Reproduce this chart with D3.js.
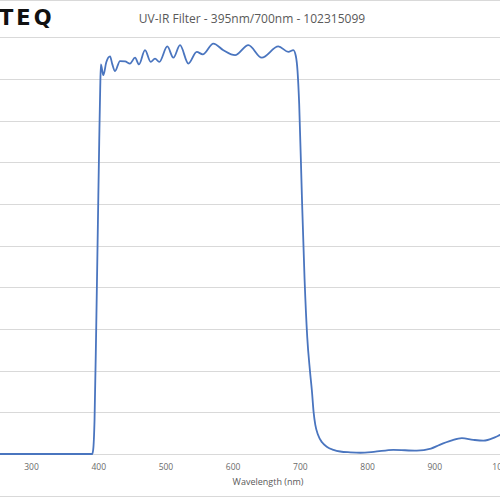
<!DOCTYPE html>
<html><head><meta charset="utf-8">
<script src="https://cdn.jsdelivr.net/npm/d3@7"></script>
<style>body{margin:0;background:#fff}svg{display:block}</style>
</head><body>
<svg id="c" width="500" height="500"></svg>
<script>
const wavelength = [250,300,350,385,391,392.5,394.5,397,399.5,401.5,403,404,407.6,412,417.6,421,425,432.4,440,447.3,454.8,460.7,469.6,478.1,484.5,490.9,502.8,511.8,521.7,534.1,546.6,555.5,571.3,586.2,603.6,623.4,643.3,668,682.9,690.3,694,696.5,699,703,707,711,715,718,720.5,723,727,733,740,750,760,775,790,810,839,874,895,908,925,941,958,973,990,998,1010,1030];
const transmission = [0,0,0,0,0,1,8,30,55,75,88,93.5,90.9,94,95.4,93.5,91.9,94.3,94.2,93.7,95.1,93.5,96.9,94.1,94.9,94.1,97.8,95.1,98.1,93.7,96.5,95.9,98.5,96.9,95.7,98.1,95.1,97.8,96.5,96.9,95.5,92,84,62,42,28,20,15,10,7,4.6,2.8,1.75,1.0,0.6,0.4,0.3,0.5,1.0,0.8,1.3,2.2,3.2,3.8,3.4,3.2,4.0,4.6,5.5,6.5];
const xTicks = [300,400,500,600,700,800,900,1000];
const yTicks = [0,10,20,30,40,50,60,70,80,90,100];
const title = "UV-IR Filter - 395nm/700nm - 102315099";
const xTitle = "Wavelength (nm)";
const logo = "TEQ";

const svg = d3.select("#c");
const x = d3.scaleLinear().domain([300,1000]).range([31,501.5]);
const y = d3.scaleLinear().domain([0,100]).range([454,37.3]);

svg.append("line").attr("x1",0).attr("x2",500).attr("y1",0.5).attr("y2",0.5).attr("stroke","#d9d9d9");
svg.append("line").attr("x1",0).attr("x2",500).attr("y1",496.5).attr("y2",496.5).attr("stroke","#d9d9d9");

svg.append("g").selectAll("line").data(yTicks.slice(1)).join("line")
  .attr("x1",0).attr("x2",500)
  .attr("y1",d=>Math.round(y(d))+0.5).attr("y2",d=>Math.round(y(d))+0.5)
  .attr("stroke","#d9d9d9").attr("stroke-width",1);

const xAxis = d3.axisBottom(x).tickValues(xTicks).tickSize(0).tickPadding(9).tickFormat(d3.format("d"));
const gx = svg.append("g").attr("transform",`translate(0,${Math.round(y(0))+0.5})`).call(xAxis);
gx.select(".domain").attr("stroke","#d9d9d9").attr("d","M0,0H500");
gx.selectAll("text").attr("fill","#6b6b6b").style("font-family","'Open Sans',sans-serif").style("font-size","8.5px");

const line = d3.line().x((d,i)=>x(wavelength[i])).y(d=>y(d)).curve(d3.curveMonotoneX);
svg.append("path").datum(transmission).attr("d",line)
  .attr("fill","none").attr("stroke","#4A75BF").attr("stroke-width",1.8).attr("stroke-linejoin","round");

svg.append("text").attr("x",252).attr("y",23).attr("text-anchor","middle")
  .attr("fill","#595959").style("font-family","'Open Sans',sans-serif").style("font-size","12px").text(title);
svg.append("text").attr("x",268).attr("y",485).attr("text-anchor","middle")
  .attr("fill","#595959").style("font-family","'Open Sans',sans-serif").style("font-size","9px").text(xTitle);
svg.append("text").attr("x",-1).attr("y",25).attr("fill","#111")
  .style("font-family","'DejaVu Sans',sans-serif").style("font-weight","bold").style("font-size","21px")
  .style("letter-spacing","3px").text(logo);
</script>
</body></html>
